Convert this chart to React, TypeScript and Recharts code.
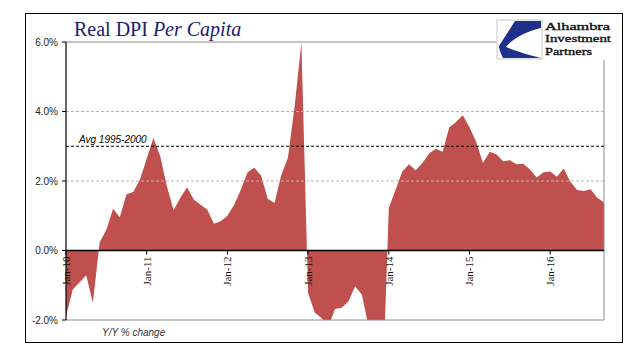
import React from 'react';
import {
  AreaChart,
  Area,
  XAxis,
  YAxis,
  ReferenceLine,
} from 'recharts';

const MONTHS = ['Jan', 'Feb', 'Mar', 'Apr', 'May', 'Jun', 'Jul', 'Aug', 'Sep', 'Oct', 'Nov', 'Dec'];
const YEARS = ['10', '11', '12', '13', '14', '15', '16'];

// Real DPI per capita, Y/Y % change, Jan-10 .. Sep-16
const RDPI_YOY = [
  -1.9, -1.12, -0.92, -0.71, -1.5, 0.23, 0.6, 1.2, 0.96, 1.62, 1.68, 2.04,
  2.64, 3.24, 2.72, 1.85, 1.16, 1.52, 1.82, 1.47, 1.32, 1.18, 0.77, 0.84,
  1.0, 1.32, 1.75, 2.25, 2.38, 2.16, 1.49, 1.37, 2.16, 2.67, 4.15, 5.98,
  -1.22, -1.79, -1.94, -2.2, -1.68, -1.65, -1.46, -1.03, -1.27, -2.2, -2.4, -4.5,
  1.22, 1.74, 2.27, 2.48, 2.31, 2.52, 2.79, 2.93, 2.84, 3.55, 3.7, 3.89,
  3.55, 3.12, 2.52, 2.84, 2.77, 2.57, 2.6, 2.48, 2.5, 2.33, 2.1, 2.25,
  2.27, 2.12, 2.36, 1.98, 1.74, 1.71, 1.76, 1.52, 1.38,
];

const CATEGORIES = YEARS.flatMap((y) => MONTHS.map((m) => `${m}-${y}`)).slice(0, RDPI_YOY.length);
const JAN_TICKS = YEARS.map((y) => `Jan-${y}`);
const Y_TICKS = [-2, 0, 2, 4, 6];
const GRID_VALUES = [2, 4];
const AVG_1995_2000 = 3.0;
const LOGO_LINES = ['Alhambra', 'Investment', 'Partners'];
const LOGO_WIDTHS = [65, 66, 47];

const data = CATEGORIES.map((m, i) => ({ month: m, yoy: RDPI_YOY[i] }));

const W = 641;
const H = 358;
const TOP = 42;
const BOTTOM = 320;
const Y_MIN = -2;
const Y_MAX = 6;
// the category axis crosses at 0%
const ZERO_Y = TOP + ((BOTTOM - TOP) * Y_MAX) / (Y_MAX - Y_MIN);

const JanTick = (props: any) => {
  const { x, payload } = props;
  const ty = ZERO_Y + 6;
  return (
    <g>
      <line x1={x} x2={x} y1={ZERO_Y} y2={ZERO_Y + 4} stroke="#000" strokeWidth={1} />
      <text
        x={x}
        y={ty}
        transform={`rotate(-90 ${x} ${ty})`}
        textAnchor="end"
        dy="0.35em"
        fontFamily="Liberation Serif"
        fontSize={11}
        fill="#111"
      >
        {payload.value}
      </text>
    </g>
  );
};

const AvgLabel = (props: any) => {
  const { viewBox } = props;
  return (
    <text
      x={viewBox.x + 13}
      y={viewBox.y - 3}
      fontFamily="Liberation Sans"
      fontStyle="italic"
      fontSize={10}
      fill="#000"
    >
      Avg 1995-2000
    </text>
  );
};

function Logo() {
  return (
    <g>
      <rect x={496} y={14} width={124} height={46} fill="#fff" />
      <rect x={497} y={20} width={45} height={39} fill="#fff" stroke="#c8c8c8" strokeWidth={1} />
      <path
        d="M 515 21 L 541 21 L 541 28 C 527 31 513 38 506 47 C 515 51 528 55 541 58 L 503 58 C 500 52 499 48 499 46 Z"
        fill="#1f2f8a"
      />
      {LOGO_LINES.map((t, i) => (
        <text
          key={t}
          x={545}
          y={29.5 + i * 12.8}
          textLength={LOGO_WIDTHS[i]}
          lengthAdjust="spacingAndGlyphs"
          fontFamily="Liberation Serif"
          fontSize={11}
          fill="#111"
          stroke="#111"
          strokeWidth={0.35}
        >
          {t}
        </text>
      ))}
    </g>
  );
}

export default function App() {
  return (
    <div style={{ position: 'absolute', left: 0, top: 0, width: W, height: H, background: '#fff' }}>
      <AreaChart
        width={W}
        height={H}
        data={data}
        margin={{ top: TOP, right: 37, bottom: 37, left: 16 }}
      >
        <XAxis
          dataKey="month"
          ticks={JAN_TICKS}
          interval={0}
          axisLine={false}
          tickLine={false}
          height={1}
          tick={<JanTick />}
        />
        <YAxis
          width={50}
          domain={[Y_MIN, Y_MAX]}
          allowDataOverflow
          ticks={Y_TICKS}
          tickFormatter={(v: number) => `${v.toFixed(1)}%`}
          tick={{ fontFamily: 'Liberation Sans', fontSize: 10, fill: '#222' }}
          axisLine={{ stroke: '#000', strokeWidth: 1.2 }}
          tickLine={{ stroke: '#000' }}
          tickSize={4}
          tickMargin={4}
        />
        {GRID_VALUES.map((v) => (
          <ReferenceLine key={v} y={v} stroke="#b5b5b5" strokeWidth={1} strokeDasharray="3 2" />
        ))}
        <Area
          type="linear"
          dataKey="yoy"
          fill="#c0504d"
          fillOpacity={1}
          stroke="none"
          dot={false}
          activeDot={false}
          isAnimationActive={false}
        />
        <ReferenceLine y={Y_MAX} stroke="#8c8c8c" strokeWidth={1} />
        <ReferenceLine y={Y_MIN} stroke="#8c8c8c" strokeWidth={1} />
        <ReferenceLine x={CATEGORIES[CATEGORIES.length - 1]} stroke="#8c8c8c" strokeWidth={1} />
        <ReferenceLine y={0} stroke="#000" strokeWidth={1.5} />
        <ReferenceLine
          y={AVG_1995_2000}
          stroke="#000"
          strokeWidth={1}
          strokeDasharray="3 2"
          label={<AvgLabel />}
        />
      </AreaChart>
      <svg
        width={W}
        height={H}
        style={{ position: 'absolute', left: 0, top: 0, pointerEvents: 'none' }}
      >
        <rect x={25.5} y={13.5} width={597} height={329} fill="none" stroke="#000" strokeWidth={1} />
        <text x={74} y={36} fontFamily="Liberation Serif" fontSize={20} fill="#1c1c6e">
          Real DPI <tspan fontStyle="italic">Per Capita</tspan>
        </text>
        <Logo />
        <text
          x={102}
          y={336}
          fontFamily="Liberation Sans"
          fontStyle="italic"
          fontSize={10}
          fill="#333"
        >
          Y/Y % change
        </text>
      </svg>
    </div>
  );
}
